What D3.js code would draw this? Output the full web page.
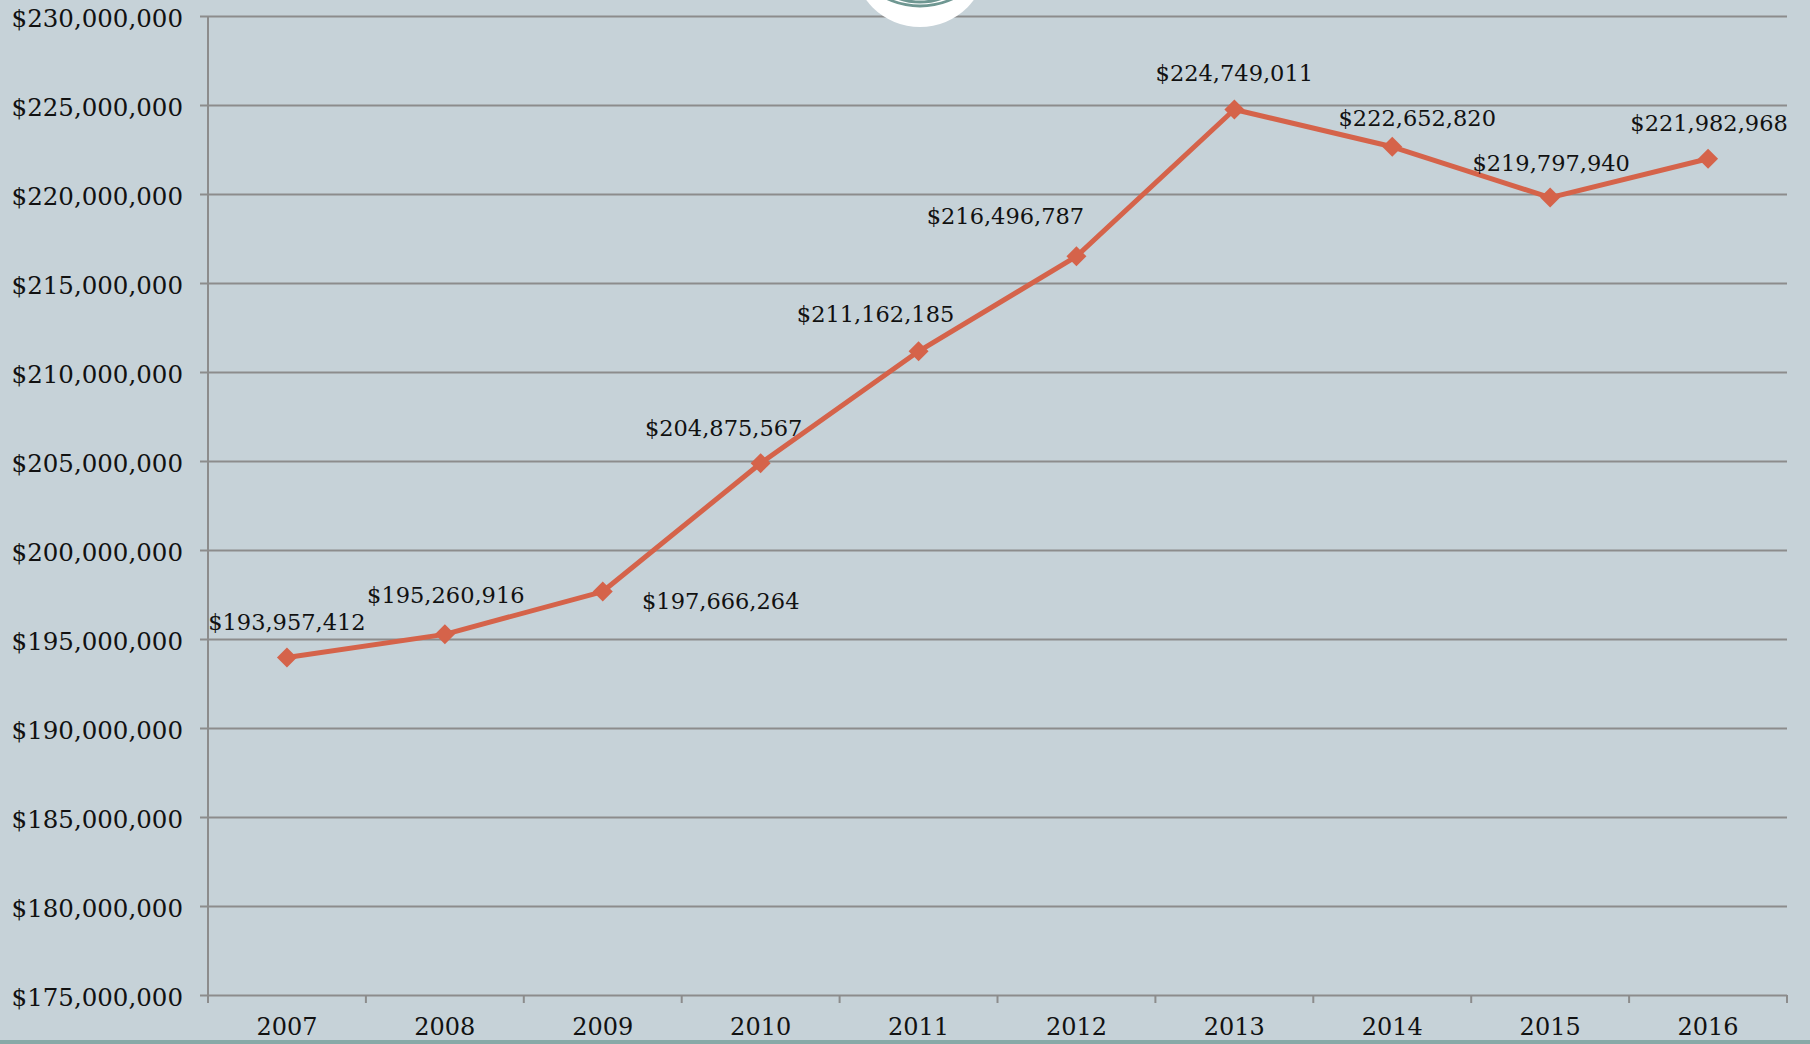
<!DOCTYPE html>
<html>
<head>
<meta charset="utf-8">
<script src="https://cdn.jsdelivr.net/npm/d3@7"></script>
<style>
  html, body { margin: 0; padding: 0; background: #c6d2d8; overflow: hidden; }
  svg { display: block; }
  text { font-family: "DejaVu Serif", "Liberation Serif", serif; fill: #111; }
</style>
</head>
<body>
<svg id="chart" width="1810" height="1044"></svg>
<script>
// Annual totals, 2007–2016
const years = ["2007", "2008", "2009", "2010", "2011", "2012", "2013", "2014", "2015", "2016"];
const totals = [193957412, 195260916, 197666264, 204875567, 211162185, 216496787, 224749011, 222652820, 219797940, 221982968];
const yTicks = [175000000, 180000000, 185000000, 190000000, 195000000, 200000000, 205000000, 210000000, 215000000, 220000000, 225000000, 230000000];

// Placement of each value label relative to its marker (label centre x, baseline y)
const labelPlacement = [[0, -28], [1, -31], [118, 17], [-37, -27], [-43, -29], [-71, -32], [0, -28], [25, -21], [1, -27], [1, -28]];

const W = 1810, H = 1044;
const margin = { left: 208, right: 23, top: 16, bottom: 49 };
const svg = d3.select("#chart");

const x = d3.scaleBand().domain(years).range([margin.left, W - margin.right]).padding(0);
const y = d3.scaleLinear().domain([175000000, 230000000]).range([H - margin.bottom, margin.top]);
const money = v => "$" + d3.format(",")(v);

// Bottom band
svg.append("rect").attr("x", 0).attr("y", 1040).attr("width", W).attr("height", 4).attr("fill", "#88a9a7");

// Horizontal gridlines with left ticks
const yAxis = d3.axisLeft(y).tickValues(yTicks).tickSize(-(W - margin.right - margin.left)).tickSizeOuter(0).tickFormat(money).tickPadding(25);
const gy = svg.append("g").attr("transform", `translate(${margin.left},0)`).call(yAxis);
gy.select(".domain").remove();
gy.selectAll(".tick line")
  .attr("x1", -8)
  .attr("stroke", "#8c8c8c").attr("stroke-width", 2);
gy.selectAll(".tick text")
  .attr("dy", null).attr("y", 10)
  .style("font-size", "24.5px").attr("fill", "#111");

// Vertical axis line
svg.append("line")
  .attr("x1", margin.left).attr("x2", margin.left)
  .attr("y1", margin.top).attr("y2", H - margin.bottom + 8)
  .attr("stroke", "#8c8c8c").attr("stroke-width", 2);

// Category ticks along the bottom axis at band boundaries
const bounds = years.map(d => x(d)).concat([x(years[years.length - 1]) + x.bandwidth()]);
svg.append("g").selectAll("line").data(bounds).join("line")
  .attr("x1", d => d).attr("x2", d => d)
  .attr("y1", H - margin.bottom).attr("y2", H - margin.bottom + 8)
  .attr("stroke", "#8c8c8c").attr("stroke-width", 2);

// Year labels
svg.append("g").selectAll("text").data(years).join("text")
  .attr("x", d => x(d) + x.bandwidth() / 2)
  .attr("y", 1035)
  .attr("text-anchor", "middle")
  .style("font-size", "24px")
  .text(d => d);

// Emblem at top centre
const emblem = svg.append("g");
emblem.append("clipPath").attr("id", "emblemClip")
  .append("circle").attr("cx", 920).attr("cy", -40).attr("r", 67);
emblem.append("circle").attr("cx", 920).attr("cy", -40).attr("r", 67).attr("fill", "#ffffff");
const rings = emblem.append("g").attr("clip-path", "url(#emblemClip)");
rings.append("circle").attr("cx", 920).attr("cy", -70).attr("r", 76)
  .attr("fill", "none").attr("stroke", "#6f9792").attr("stroke-width", 3);
rings.append("circle").attr("cx", 920).attr("cy", -60).attr("r", 62)
  .attr("fill", "none").attr("stroke", "#6f9792").attr("stroke-width", 3);

// Series line
const pts = years.map((yr, i) => ({ yr, v: totals[i], i }));
const line = d3.line().x(d => x(d.yr) + x.bandwidth() / 2).y(d => y(d.v));
svg.append("path").datum(pts)
  .attr("d", line)
  .attr("fill", "none")
  .attr("stroke", "#d5634a")
  .attr("stroke-width", 5)
  .attr("stroke-linejoin", "round");

// Diamond markers
svg.append("g").selectAll("path").data(pts).join("path")
  .attr("transform", d => `translate(${x(d.yr) + x.bandwidth() / 2},${y(d.v)})`)
  .attr("d", "M0,-10L10,0L0,10L-10,0Z")
  .attr("fill", "#d5634a");

// Value labels
svg.append("g").selectAll("text").data(pts).join("text")
  .attr("x", d => x(d.yr) + x.bandwidth() / 2 + labelPlacement[d.i][0])
  .attr("y", d => y(d.v) + labelPlacement[d.i][1])
  .attr("text-anchor", "middle")
  .style("font-size", "22.5px")
  .text(d => money(d.v));
</script>
</body>
</html>
